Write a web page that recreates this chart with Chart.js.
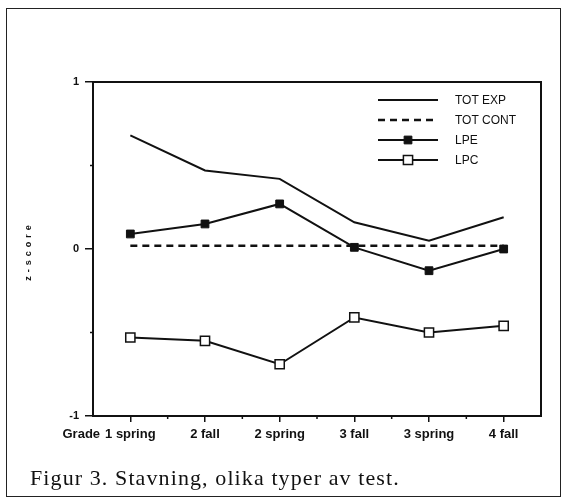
<!DOCTYPE html>
<html>
<head>
<meta charset="utf-8">
<script src="https://cdn.jsdelivr.net/npm/chart.js@4.4.1/dist/chart.umd.min.js"></script>
<style>
html, body { margin: 0; padding: 0; background: #fff; }
#wrap { position: relative; width: 562px; height: 498px; overflow: hidden; }
#chart { position: absolute; left: 0; top: 0; }
#frame { position: absolute; left: 6px; top: 8px; width: 555px; height: 489px; border: 1.5px solid #222; box-sizing: border-box; }
#caption { position: absolute; left: 30px; top: 467px; font: 22px "Liberation Serif", serif; line-height: 22px; letter-spacing: 1.1px; color: #111; white-space: nowrap; }
</style>
</head>
<body>
<div id="wrap">
  <canvas id="chart" width="562" height="498"></canvas>
  <div id="frame"></div>
  <div id="caption">Figur 3. Stavning, olika typer av test.</div>
</div>
<script>
// data
const categories = ['1 spring', '2 fall', '2 spring', '3 fall', '3 spring', '4 fall'];
const totExp  = [0.68, 0.47, 0.42, 0.16, 0.05, 0.19];
const totCont = [0.02, 0.02, 0.02, 0.02, 0.02, 0.02];
const lpe     = [0.09, 0.15, 0.27, 0.01, -0.13, 0.00];
const lpc     = [-0.53, -0.55, -0.69, -0.41, -0.50, -0.46];
const yTicks  = [-1, 0, 1];

const ink = '#111';
const tickFont = { family: 'Liberation Sans', size: 13, weight: 'bold' };

function line(ctx, x0, y0, x1, y1) {
    ctx.beginPath();
    ctx.moveTo(x0, y0);
    ctx.lineTo(x1, y1);
    ctx.stroke();
}

// box, minor ticks, legend, axis title and the "Grade" prefix
const extras = {
    id: 'extras',
    afterDraw(chart) {
        const { ctx, chartArea: a, scales: { x, y } } = chart;
        ctx.save();
        ctx.strokeStyle = ink;
        ctx.fillStyle = ink;
        ctx.lineWidth = 2;
        ctx.strokeRect(a.left, a.top, a.right - a.left, a.bottom - a.top);

        ctx.lineWidth = 1.5;
        [-0.5, 0.5].forEach(v => {
            const py = y.getPixelForValue(v);
            line(ctx, a.left - 3, py, a.left, py);
        });
        for (let i = 0; i < categories.length - 1; i++) {
            const px = (x.getPixelForTick(i) + x.getPixelForTick(i + 1)) / 2;
            line(ctx, px, a.bottom, px, a.bottom + 3);
        }

        // legend
        ctx.font = '12px "Liberation Sans"';
        ctx.textBaseline = 'middle';
        ctx.textAlign = 'left';
        chart.data.datasets.forEach((ds, i) => {
            const ly = a.top + 18 + i * 20;
            const x0 = a.right - 163, x1 = a.right - 103;
            ctx.lineWidth = ds.borderWidth;
            ctx.setLineDash(ds.borderDash || []);
            line(ctx, x0, ly, x1, ly);
            ctx.setLineDash([]);
            if (ds.pointRadius > 0) {
                ctx.fillStyle = ds.pointBackgroundColor;
                ctx.strokeStyle = ink;
                ctx.lineWidth = ds.pointBorderWidth;
                Chart.helpers.drawPoint(ctx, { pointStyle: 'rect', radius: ds.pointRadius, borderWidth: ds.pointBorderWidth, rotation: 0 }, (x0 + x1) / 2, ly);
            }
            ctx.fillStyle = ink;
            ctx.fillText(ds.label, x1 + 17, ly + 1);
        });

        // y axis title
        ctx.save();
        ctx.translate(29, (a.top + a.bottom) / 2 + 2);
        ctx.rotate(-Math.PI / 2);
        ctx.font = 'bold 9px "Liberation Sans"';
        ctx.letterSpacing = '4px';
        ctx.textAlign = 'center';
        ctx.fillText('z-score', 0, 0);
        ctx.restore();

        // "Grade" before the first category label
        ctx.font = 'bold 13px "Liberation Sans"';
        ctx.textAlign = 'right';
        ctx.textBaseline = 'middle';
        const firstW = ctx.measureText(categories[0]).width;
        const gx = x.getPixelForTick(0) - firstW / 2 - 5;
        ctx.fillText('Grade', gx, a.bottom + 6 + 5 + 7);
        ctx.restore();
    }
};

new Chart(document.getElementById('chart'), {
    type: 'line',
    data: {
        labels: categories,
        datasets: [
            { label: 'TOT EXP', data: totExp, borderColor: ink, borderWidth: 2, pointRadius: 0 },
            { label: 'TOT CONT', data: totCont, borderColor: ink, borderWidth: 2.5, borderDash: [7, 5], pointRadius: 0 },
            { label: 'LPE', data: lpe, borderColor: ink, borderWidth: 2, pointStyle: 'rect', pointRadius: 5.5,
              pointBackgroundColor: ink, pointBorderColor: ink, pointBorderWidth: 1 },
            { label: 'LPC', data: lpc, borderColor: ink, borderWidth: 2, pointStyle: 'rect', pointRadius: 6.5,
              pointBackgroundColor: '#fff', pointBorderColor: ink, pointBorderWidth: 1.5 }
        ]
    },
    options: {
        responsive: false,
        animation: false,
        devicePixelRatio: 1,
        layout: { padding: { top: 82, right: 21, left: 0, bottom: 0 } },
        plugins: { legend: { display: false }, tooltip: { enabled: false } },
        elements: { line: { tension: 0 } },
        scales: {
            x: {
                offset: true,
                grid: { offset: false, drawOnChartArea: false, color: ink, tickLength: 6, lineWidth: 1.5 },
                border: { color: ink, width: 2 },
                ticks: { color: ink, font: tickFont, padding: 5, maxRotation: 0, autoSkip: false },
                afterFit(s) { s.height = 82; }
            },
            y: {
                min: yTicks[0],
                max: yTicks[yTicks.length - 1],
                afterBuildTicks(s) { s.ticks = yTicks.map(v => ({ value: v })); },
                grid: { drawOnChartArea: false, color: ink, tickLength: 8, lineWidth: 1.5 },
                border: { color: ink, width: 2 },
                ticks: { color: ink, font: { family: 'Liberation Sans', size: 11, weight: 'bold' }, padding: 6 },
                afterFit(s) { s.width = 93; }
            }
        }
    },
    plugins: [extras]
});
</script>
</body>
</html>
